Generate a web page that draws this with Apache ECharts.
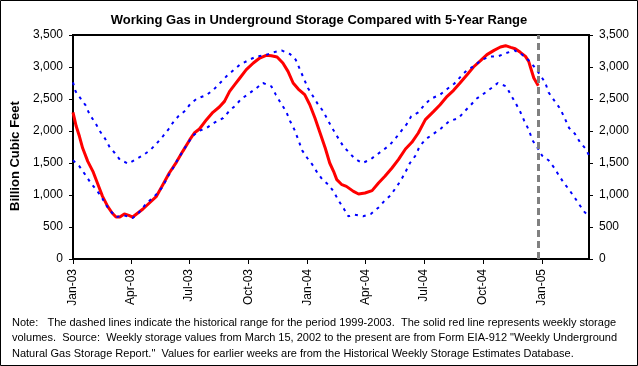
<!DOCTYPE html>
<html>
<head>
<meta charset="utf-8">
<script src="https://cdn.jsdelivr.net/npm/echarts@6/dist/echarts.min.js"></script>
<style>
html,body{margin:0;padding:0;background:#fff;}
#c{width:638px;height:366px;}
</style>
</head>
<body>
<div id="c"></div>
<script>
// x values are days since 2003-01-01
const titleText = 'Working Gas in Underground Storage Compared with 5-Year Range';
const yAxisTitle = 'Billion Cubic Feet';
const noteLines = [
  'Note:   The dashed lines indicate the historical range for the period 1999-2003.  The solid red line represents weekly storage',
  'volumes.  Source:  Weekly storage values from March 15, 2002 to the present are from Form EIA-912 "Weekly Underground',
  'Natural Gas Storage Report."  Values for earlier weeks are from the Historical Weekly Storage Estimates Database.'
];
const xTickDays = [0, 90, 181, 273, 365, 456, 547, 639, 731];
const xTickLabels = ['Jan-03','Apr-03','Jul-03','Oct-03','Jan-04','Apr-04','Jul-04','Oct-04','Jan-05'];
const xMaxDay = 804;

const storageDays = [0,5,10,15,23,31,38,46,54,61,67,73,80,87,93,101,109,119,130,140,150,161,171,182,189,197,208,218,228,236,244,252,260,270,281,291,301,309,318,327,335,343,351,361,369,377,385,393,400,406,411,419,426,437,445,455,466,476,486,497,507,518,528,538,549,562,572,583,593,603,614,624,635,645,656,666,674,682,689,697,705,710,714,718,725];
const storageVals = [2292,2073,1917,1734,1526,1370,1187,979,823,719,656,656,703,682,656,719,781,875,979,1161,1344,1510,1682,1864,1969,2031,2177,2292,2375,2463,2620,2724,2828,2958,3062,3140,3182,3177,3156,3062,2932,2750,2656,2568,2411,2203,1969,1734,1500,1370,1240,1161,1135,1057,1016,1031,1068,1187,1292,1422,1552,1719,1823,1969,2177,2307,2411,2542,2635,2750,2880,3000,3099,3193,3260,3312,3333,3307,3286,3229,3166,3088,2958,2828,2708];

const maxDays = [0,4,12,20,26,35,41,50,57,65,73,86,97,108,120,130,140,149,156,164,175,183,193,208,219,228,239,248,260,273,286,299,312,325,338,347,360,366,374,382,390,398,406,414,422,431,439,451,463,472,484,494,503,511,520,527,538,547,557,572,583,594,603,613,624,636,649,662,675,688,700,710,719,727,736,741,750,759,766,773,782,790,799,804];
const maxVals = [2760,2620,2505,2396,2255,2125,2010,1880,1750,1656,1552,1490,1552,1614,1698,1802,1917,2031,2135,2229,2318,2427,2505,2562,2646,2739,2854,2932,3036,3104,3166,3182,3229,3260,3203,3114,2812,2672,2542,2411,2307,2151,2010,1875,1750,1656,1568,1500,1552,1620,1708,1786,1891,1995,2109,2229,2292,2401,2500,2568,2656,2739,2838,2942,3010,3104,3166,3166,3218,3260,3193,3104,3000,2890,2750,2604,2474,2349,2203,2047,1958,1823,1719,1620];

const minDays = [0,10,19,27,36,44,51,59,67,80,93,103,114,124,132,140,148,156,163,171,179,187,195,208,221,234,244,253,262,274,286,296,309,316,323,332,338,345,351,357,365,373,381,388,398,406,413,422,429,439,452,464,477,486,495,502,510,518,525,534,540,550,562,573,586,601,610,619,628,640,652,662,675,682,689,697,703,710,716,724,731,741,750,757,765,773,781,788,796,804];
const minVals = [1542,1448,1318,1198,1083,979,849,745,656,680,641,729,865,953,1031,1135,1292,1422,1552,1682,1812,1927,1995,2047,2135,2203,2318,2396,2500,2583,2672,2750,2698,2568,2448,2307,2161,2021,1865,1698,1578,1474,1344,1250,1161,1057,927,786,667,693,667,703,812,917,995,1099,1213,1359,1500,1620,1760,1875,1958,2036,2151,2203,2307,2396,2500,2583,2672,2750,2698,2568,2448,2297,2161,2021,1854,1734,1614,1542,1422,1307,1187,1083,969,865,745,667];

const zip = (xs, ys) => xs.map((x, i) => [x, ys[i]]);
const fmtNum = v => v.toLocaleString('en-US');
const FONT = 'Liberation Sans, Arial, sans-serif';

const chart = echarts.init(document.getElementById('c'), null, {renderer: 'canvas'});
const yCommon = {
  type: 'value', min: 0, max: 3500, interval: 500,
  axisLine: {show: true, lineStyle: {color: '#000', width: 2}},
  axisTick: {show: true, inside: false, length: 4, lineStyle: {color: '#000', width: 1}},
  splitLine: {show: false},
  axisLabel: {color: '#000', fontSize: 12, fontFamily: FONT, margin: 10, formatter: fmtNum}
};
chart.setOption({
  animation: false,
  backgroundColor: '#fff',
  title: {
    text: titleText, left: 'center', top: 9,
    textStyle: {fontSize: 13, fontWeight: 'bold', color: '#000', fontFamily: FONT}
  },
  grid: {left: 73, right: 49, top: 35, bottom: 107, show: true, borderColor: '#000', borderWidth: 2, backgroundColor: '#fff'},
  xAxis: {
    type: 'value', min: 0, max: xMaxDay,
    axisLine: {show: true, onZero: false, lineStyle: {color: '#000', width: 2}},
    axisTick: {show: true, length: 5, customValues: xTickDays, lineStyle: {color: '#000'}},
    splitLine: {show: false},
    axisLabel: {
      customValues: xTickDays, rotate: 90, margin: 10, color: '#000', fontSize: 12, fontFamily: FONT,
      formatter: v => { const i = xTickDays.indexOf(v); return i >= 0 ? xTickLabels[i] : ''; }
    }
  },
  yAxis: [
    Object.assign({position: 'left'}, yCommon),
    Object.assign({position: 'right'}, yCommon)
  ],
  series: [
    {
      type: 'line', name: 'Storage', data: zip(storageDays, storageVals), showSymbol: false, z: 2,
      lineStyle: {color: '#ff0000', width: 3}
    },
    {
      type: 'line', name: '5-Year Max', data: zip(maxDays, maxVals), showSymbol: false, z: 3,
      lineStyle: {color: '#0000ff', width: 2, type: [3, 5]}
    },
    {
      type: 'line', name: '5-Year Min', data: zip(minDays, minVals), showSymbol: false, z: 3,
      lineStyle: {color: '#0000ff', width: 2, type: [3, 5]},
      markLine: {
        silent: true, symbol: 'none', label: {show: false}, z: 5,
        lineStyle: {color: '#808080', width: 3, type: [7, 4]},
        data: [{xAxis: storageDays[storageDays.length - 1]}]
      }
    }
  ],
  graphic: [
    {type: 'rect', shape: {x: 0.5, y: 0.5, width: 637, height: 365}, style: {fill: 'none', stroke: '#000', lineWidth: 1}, z: 100},
    {type: 'text', x: 15.5, y: 156, rotation: Math.PI / 2,
      style: {text: yAxisTitle, font: 'bold 13px ' + FONT, fill: '#000', align: 'center', verticalAlign: 'middle'}},
    {type: 'text', x: 12, y: 315,
      style: {text: noteLines.join('\n'), font: '11px ' + FONT, fill: '#000', lineHeight: 15.5, align: 'left', verticalAlign: 'top'}}
  ]
});
</script>
</body>
</html>
